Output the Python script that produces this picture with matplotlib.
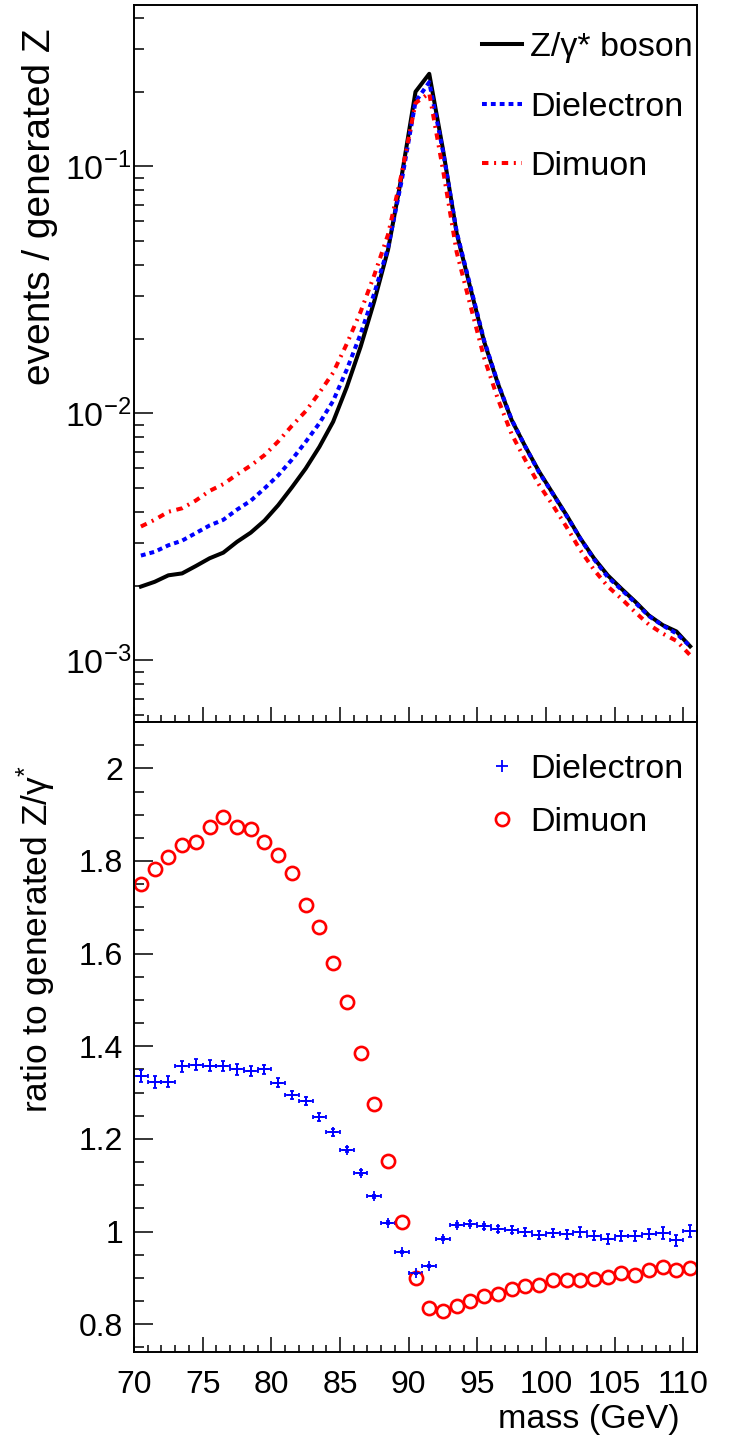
import numpy as np
import matplotlib.pyplot as plt
from matplotlib.ticker import MultipleLocator, LogLocator, NullFormatter, FuncFormatter
from matplotlib.lines import Line2D

plt.rcParams["font.family"] = ["Liberation Sans", "DejaVu Sans"]
plt.rcParams["mathtext.fontset"] = "custom"
plt.rcParams["mathtext.rm"] = "Liberation Sans"
plt.rcParams["mathtext.it"] = "Liberation Sans:italic"
plt.rcParams["mathtext.default"] = "regular"

# 1 GeV bins from 70 to 111 GeV
mass = np.arange(70.5, 111.0, 1.0)

# generated Z/gamma* lineshape, normalised to the number of generated Z
z_gen = np.array([
    1.99e-3, 2.08e-3, 2.21e-3, 2.25e-3, 2.41e-3, 2.59e-3, 2.73e-3, 3.02e-3,
    3.29e-3, 3.68e-3, 4.25e-3, 5.02e-3, 5.98e-3, 7.32e-3, 9.25e-3, 1.28e-2,
    1.86e-2, 2.85e-2, 4.60e-2, 9.20e-2, 2.005e-1, 2.37e-1, 1.17e-1, 5.35e-2,
    3.21e-2, 1.95e-2, 1.32e-2, 9.40e-3, 7.33e-3, 5.81e-3, 4.74e-3, 3.87e-3,
    3.12e-3, 2.59e-3, 2.21e-3, 1.95e-3, 1.73e-3, 1.52e-3, 1.39e-3, 1.31e-3,
    1.14e-3,
])

# reconstructed / generated ratios
ratio_ee = np.array([
    1.335, 1.323, 1.323, 1.357, 1.360, 1.358, 1.358, 1.350, 1.346, 1.350,
    1.321, 1.295, 1.282, 1.247, 1.214, 1.177, 1.127, 1.076, 1.019, 0.956,
    0.911, 0.925, 0.985, 1.014, 1.017, 1.011, 1.006, 1.004, 0.999, 0.993,
    0.997, 0.994, 0.999, 0.991, 0.984, 0.991, 0.990, 0.994, 0.997, 0.981,
    1.001,
])
ratio_ee_err = np.array([
    0.013, 0.013, 0.012, 0.012, 0.012, 0.012, 0.011, 0.011, 0.011, 0.010,
    0.010, 0.009, 0.009, 0.008, 0.007, 0.006, 0.005, 0.004, 0.003, 0.003,
    0.002, 0.002, 0.003, 0.004, 0.005, 0.006, 0.007, 0.007, 0.008, 0.008,
    0.009, 0.009, 0.010, 0.010, 0.010, 0.011, 0.011, 0.011, 0.012, 0.012,
    0.013,
])
ratio_mm = np.array([
    1.750, 1.783, 1.808, 1.835, 1.842, 1.874, 1.894, 1.874, 1.869, 1.841,
    1.812, 1.775, 1.706, 1.657, 1.580, 1.496, 1.386, 1.275, 1.152, 1.020,
    0.900, 0.835, 0.828, 0.839, 0.850, 0.860, 0.866, 0.877, 0.882, 0.884,
    0.896, 0.896, 0.896, 0.898, 0.902, 0.911, 0.906, 0.918, 0.924, 0.916,
    0.921,
])

ee_curve = z_gen * ratio_ee
mm_curve = z_gen * ratio_mm

fig = plt.figure(figsize=(7.3, 14.36), dpi=100)
ax1 = fig.add_axes([0.1836, 0.4972, 0.7712, 0.4993])
ax2 = fig.add_axes([0.1836, 0.0585, 0.7712, 0.4387], sharex=ax1)

fs = 23
fs_leg = 24.5
lw = 2.9

# upper panel: lineshapes
ax1.plot(mass, z_gen, color="black", lw=lw, label="Z/γ* boson")
ax1.plot(mass, ee_curve, color="blue", lw=lw, linestyle=(0, (1.2, 1.0)),
         label="Dielectron")
ax1.plot(mass, mm_curve, color="red", lw=lw, linestyle=(0, (1.6, 1.4, 0.5, 1.4)),
         label="Dimuon")
ax1.set_yscale("log")
ax1.set_ylim(5.63e-4, 0.45)
ax1.set_xlim(70, 111)
ax1.yaxis.set_major_locator(LogLocator(base=10, numticks=10))
ax1.yaxis.set_minor_locator(LogLocator(base=10, subs=np.arange(2, 10), numticks=20))
ax1.yaxis.set_minor_formatter(NullFormatter())
ax1.set_ylabel("events / generated Z", fontsize=28, loc="top")
ax1.yaxis.set_label_coords(-0.135, 0.968)
ax1.legend(loc="upper left", bbox_to_anchor=(0.618, 0.962), frameon=False,
           fontsize=fs_leg, handlelength=1.18, handletextpad=0.235,
           labelspacing=0.83, borderaxespad=0, borderpad=0)

# lower panel: ratios
ax2.errorbar(mass, ratio_ee, xerr=0.5, yerr=ratio_ee_err, fmt="+", color="blue",
             ms=7, mew=1.3, elinewidth=1.3, capsize=1.6, capthick=2.2)
ax2.plot(mass, ratio_mm, "o", mfc="none", mec="red", ms=9.5, mew=1.9)
ax2.set_ylim(0.74, 2.1)
ax2.yaxis.set_major_locator(MultipleLocator(0.2))
ax2.yaxis.set_minor_locator(MultipleLocator(0.05))
ax2.yaxis.set_major_formatter(FuncFormatter(lambda v, p: f"{v:g}"))
ax2.set_ylabel("ratio to generated Z/γ$^{*}$", fontsize=25.5, loc="top")
ax2.yaxis.set_label_coords(-0.135, 0.932)
ax2.set_xlabel("mass (GeV)", fontsize=fs_leg, loc="right")
ax2.xaxis.set_label_coords(0.97, -0.083)
handles = [
    Line2D([], [], ls="none", marker="+", color="blue", ms=8, mew=1.3),
    Line2D([], [], ls="none", marker="o", mfc="none", mec="red", ms=9.5, mew=1.9),
]
ax2.legend(handles, ["Dielectron", "Dimuon"], loc="upper left",
           bbox_to_anchor=(0.618, 0.949), frameon=False, fontsize=fs_leg,
           handlelength=1.18, handletextpad=0.235, labelspacing=0.65,
           borderaxespad=0, borderpad=0)

ax1.xaxis.set_major_locator(MultipleLocator(5))
ax1.xaxis.set_minor_locator(MultipleLocator(1))

for ax in (ax1, ax2):
    for s in ax.spines.values():
        s.set_linewidth(1.4)
    ax.tick_params(which="both", direction="in", top=False, right=False,
                   width=1.1, labelsize=fs)
    ax.tick_params(axis="x", which="major", length=10.8, pad=13)
    ax.tick_params(axis="x", which="minor", length=5)
    ax.tick_params(axis="y", which="major", length=14, pad=4)
    ax.tick_params(axis="y", which="minor", length=7)
ax1.tick_params(labelbottom=False)
ax1.tick_params(axis="y", labelsize=24.5, pad=2)
ax2.tick_params(axis="y", pad=8)

fig.savefig("out.png", dpi=100)
